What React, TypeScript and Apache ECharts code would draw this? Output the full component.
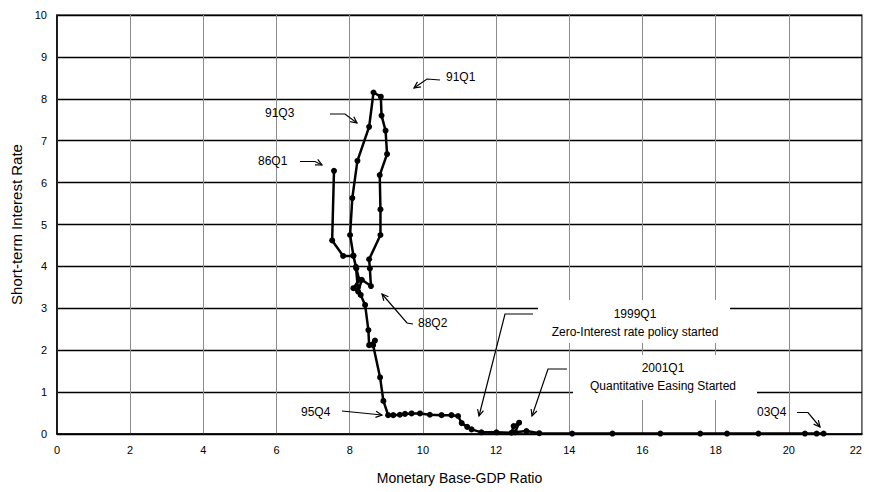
import React, { useEffect, useRef } from "react";
import * as echarts from "echarts";

// Monetary Base-GDP ratio (x) and short-term interest rate (y), quarterly 86Q1 .. 03Q4
const baseRatio: number[] = [
  7.57, 7.52, 7.82, 8.10, 8.18, 8.26, 8.10, 8.23, 8.33, 8.58,
  8.55, 8.53, 8.84, 8.84, 8.82, 9.02, 8.98, 8.87, 8.85, 8.65,
  8.53, 8.21, 8.07, 8.01, 8.10, 8.17, 8.22, 8.30, 8.42, 8.51,
  8.53, 8.69, 8.64, 8.83, 8.92, 9.05, 9.19, 9.37, 9.51, 9.69,
  9.92, 10.19, 10.51, 10.78, 10.96, 11.06, 11.21, 11.33, 11.60, 12.01,
  12.42, 12.48, 12.63, 12.52, 12.83, 13.18, 14.08, 15.18, 16.49, 17.58,
  18.31, 19.17, 20.44, 20.76, 20.95,
];
const shortRate: number[] = [
  6.28, 4.62, 4.25, 4.25, 3.95, 3.68, 3.48, 3.40, 3.68, 3.53,
  3.95, 4.17, 4.75, 5.36, 6.18, 6.68, 7.24, 7.60, 8.05, 8.15,
  7.33, 6.52, 5.63, 4.75, 4.26, 3.99, 3.50, 3.32, 3.08, 2.48,
  2.12, 2.23, 2.12, 1.35, 0.79, 0.45, 0.45, 0.46, 0.48, 0.49,
  0.49, 0.46, 0.45, 0.45, 0.43, 0.26, 0.17, 0.11, 0.04, 0.04,
  0.03, 0.19, 0.27, 0.04, 0.07, 0.02, 0.01, 0.01, 0.01, 0.01,
  0.01, 0.01, 0.01, 0.01, 0.01,
];

const xTicks = { min: 0, max: 22, interval: 2 };
const yTicks = { min: 0, max: 10, interval: 1 };

const FONT = "'Liberation Sans', Arial, sans-serif";

type P = [number, number];

function arrowHead(from: P, tip: P, len = 7, ang = 0.45): P[] {
  const a = Math.atan2(tip[1] - from[1], tip[0] - from[0]);
  const l: P = [tip[0] - len * Math.cos(a - ang), tip[1] - len * Math.sin(a - ang)];
  const r: P = [tip[0] - len * Math.cos(a + ang), tip[1] - len * Math.sin(a + ang)];
  return [l, tip, r];
}

function arrow(pts: P[]): any[] {
  const n = pts.length;
  return [
    { type: "polyline", z: 5, shape: { points: pts }, style: { stroke: "#000", lineWidth: 1.2, fill: null } },
    { type: "polyline", z: 5, shape: { points: arrowHead(pts[n - 2], pts[n - 1]) }, style: { stroke: "#000", lineWidth: 1.2, fill: null } },
  ];
}

function label(text: string, x: number, y: number, align: string = "left"): any {
  return {
    type: "text",
    z: 5,
    x,
    y,
    style: { text, fill: "#000", font: `12px ${FONT}`, textAlign: align, textVerticalAlign: "middle" },
  };
}

export default function App() {
  const ref = useRef<HTMLDivElement>(null);
  useEffect(() => {
    if (!ref.current) return;
    const chart = echarts.init(ref.current, null, { renderer: "svg" });
    const data = baseRatio.map((x, i) => [x, shortRate[i]]);
    const graphic: any[] = [
      { type: "rect", z: 1, shape: { x: 538, y: 300, width: 192, height: 43 }, style: { fill: "#fff" } },
      { type: "rect", z: 1, shape: { x: 573, y: 355, width: 184, height: 45 }, style: { fill: "#fff" } },
      label("91Q1", 446, 77),
      ...arrow([[440, 80], [427, 79], [414, 88]]),
      label("91Q3", 265, 113),
      ...arrow([[330, 114], [345, 114], [357, 123]]),
      label("86Q1", 258, 161),
      ...arrow([[300, 161.5], [315, 161.5], [322, 165]]),
      label("88Q2", 418, 323),
      ...arrow([[413, 324], [407, 323], [382, 294]]),
      label("95Q4", 301, 412),
      ...arrow([[342, 411], [382, 415]]),
      label("1999Q1", 635, 314, "center"),
      label("Zero-Interest rate policy started", 635, 332, "center"),
      ...arrow([[533, 314], [505, 314], [479, 416]]),
      label("2001Q1", 663, 368, "center"),
      label("Quantitative Easing Started", 663, 386, "center"),
      ...arrow([[567, 369], [548, 369], [532, 416]]),
      label("03Q4", 757, 412),
      ...arrow([[797, 412.5], [808, 412.5], [820, 427]]),
    ];
    chart.setOption({
      animation: false,
      backgroundColor: "#fff",
      textStyle: { fontFamily: FONT },
      grid: {
        left: 57,
        right: 7,
        top: 15,
        bottom: 58,
        show: true,
        borderColor: "#000",
        borderWidth: 1.2,
      },
      xAxis: {
        type: "value",
        min: xTicks.min,
        max: xTicks.max,
        interval: xTicks.interval,
        name: "Monetary Base-GDP Ratio",
        nameLocation: "middle",
        nameGap: 37,
        nameTextStyle: { fontSize: 14, color: "#000", fontFamily: FONT },
        axisLine: { show: true, lineStyle: { color: "#000", width: 1.5 } },
        axisTick: { show: false },
        axisLabel: { color: "#000", fontSize: 11, margin: 10, fontFamily: FONT, alignMaxLabel: "right" },
        splitLine: { show: true, lineStyle: { color: "#8c8c8c", width: 1 } },
      },
      yAxis: {
        type: "value",
        min: yTicks.min,
        max: yTicks.max,
        interval: yTicks.interval,
        name: "Short-term Interest Rate",
        nameLocation: "middle",
        nameGap: 32,
        nameTextStyle: { fontSize: 15, color: "#000", fontFamily: FONT },
        axisLine: { show: true, lineStyle: { color: "#000", width: 1.5 } },
        axisTick: { show: false },
        axisLabel: { color: "#000", fontSize: 11, margin: 10, fontFamily: FONT },
        splitLine: { show: true, lineStyle: { color: "#000", width: 1.4 } },
      },
      series: [
        {
          type: "line",
          data,
          symbol: "circle",
          symbolSize: 6,
          lineStyle: { color: "#000", width: 2.5 },
          itemStyle: { color: "#000" },
          z: 3,
        },
      ],
      graphic,
    });
    return () => chart.dispose();
  }, []);
  return <div ref={ref} style={{ position: "absolute", left: 0, top: 0, width: 869, height: 492 }} />;
}
